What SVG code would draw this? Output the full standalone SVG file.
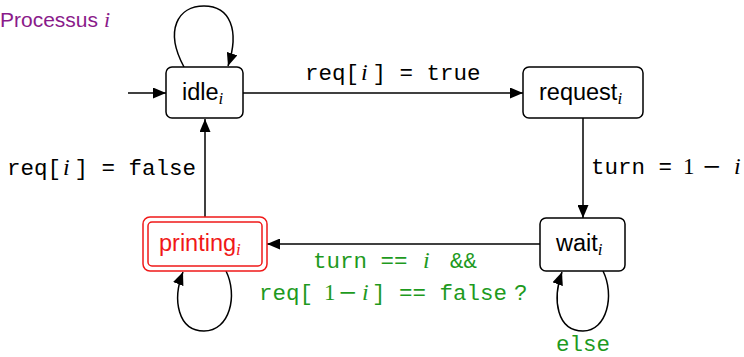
<svg xmlns="http://www.w3.org/2000/svg" width="744" height="357" viewBox="0 0 744 357">
<style>
.box{fill:#fff;stroke:#000;stroke-width:1.5}
.rbox{fill:#fff;stroke:#f01818;stroke-width:1.5}
.edge{fill:none;stroke:#000;stroke-width:1.5;marker-end:url(#arr)}
.sans{font-family:"Liberation Sans",Arial,sans-serif;font-size:23.5px}
.mono{font-family:"Liberation Mono","Courier New",monospace;font-size:22.5px;white-space:pre}
.math{font-family:"Liberation Serif","Times New Roman",serif;font-style:italic;font-size:24px}
.mr{font-family:"Liberation Serif","Times New Roman",serif;font-style:normal;font-size:23px}
.minus{font-family:"DejaVu Serif",serif;font-style:normal;font-size:23px}
.sub{font-family:"Liberation Serif","Times New Roman",serif;font-style:italic;font-size:17px}
.green{fill:#1e9a1e}
</style>
<defs>
<marker id="arr" markerUnits="userSpaceOnUse" markerWidth="14" markerHeight="11" refX="13" refY="5.5" orient="auto">
<path d="M0,0 L13,5.5 L0,11 Z" fill="#000"/>
</marker>
</defs>

<text x="0" y="27" fill="#8a1a8a" style="font-family:'Liberation Sans',Arial,sans-serif;font-size:21px">Processus <tspan class="math" style="font-size:22px">i</tspan></text>

<g id="connectors">
<path class="edge" d="M128,93 L166,93"/>
<path class="edge" d="M243,93 L523,93"/>
<path class="edge" d="M583,118 L583,218"/>
<path class="edge" d="M540,244 L267,244"/>
<path class="edge" d="M205,217 L205,119"/>
<path class="edge" d="M184,67 C164,30 178,6 204,6 C230,6 240,30 228,66"/>
<path class="edge" d="M226,271 C238,295 230,331 204,331 C178,331 172,300 183,272"/>
<path class="edge" d="M603,271 C615,295 607,331 583,331 C557,331 552,300 562,272"/>
<text class="mono" y="80"><tspan x="305">req[</tspan><tspan x="361" class="math">i</tspan><tspan x="372.5">] = true</tspan></text>
<text class="mono" y="175"><tspan x="7">req[</tspan><tspan x="63" class="math">i</tspan><tspan x="74.5">] = false</tspan></text>
<text class="mono" y="174"><tspan x="591">turn =</tspan><tspan x="683" class="mr">1</tspan><tspan x="702" class="minus">−</tspan><tspan x="734" class="math">i</tspan></text>
<text class="mono green" y="268"><tspan x="313">turn ==</tspan><tspan x="423" class="math">i</tspan><tspan x="450">&amp;&amp;</tspan></text>
<text class="mono green" y="300"><tspan x="259">req[</tspan><tspan x="324" class="mr">1</tspan><tspan x="338" class="minus">−</tspan><tspan x="362" class="math">i</tspan><tspan x="372">] == false</tspan><tspan x="514">?</tspan></text>
<text class="mono green" x="583" y="351" text-anchor="middle">else</text>
</g>

<g id="idle">
<rect class="box" x="166" y="67" width="77" height="51" rx="6"/>
<text class="sans" x="182" y="100">idle<tspan class="sub" dy="4">i</tspan></text>
</g>
<g id="request">
<rect class="box" x="523" y="67" width="120" height="51" rx="6"/>
<text class="sans" x="539" y="100">request<tspan class="sub" dy="4">i</tspan></text>
</g>
<g id="wait">
<rect class="box" x="540" y="218" width="85" height="53" rx="6"/>
<text class="sans" x="556" y="251">wait<tspan class="sub" dy="4">i</tspan></text>
</g>
<g id="printing">
<rect class="rbox" x="143" y="217" width="124" height="54" rx="7"/>
<rect class="rbox" x="148" y="222" width="114" height="44" rx="4"/>
<text class="sans" x="159" y="251" fill="#f01818">printing<tspan class="sub" dy="4">i</tspan></text>
</g>
</svg>
